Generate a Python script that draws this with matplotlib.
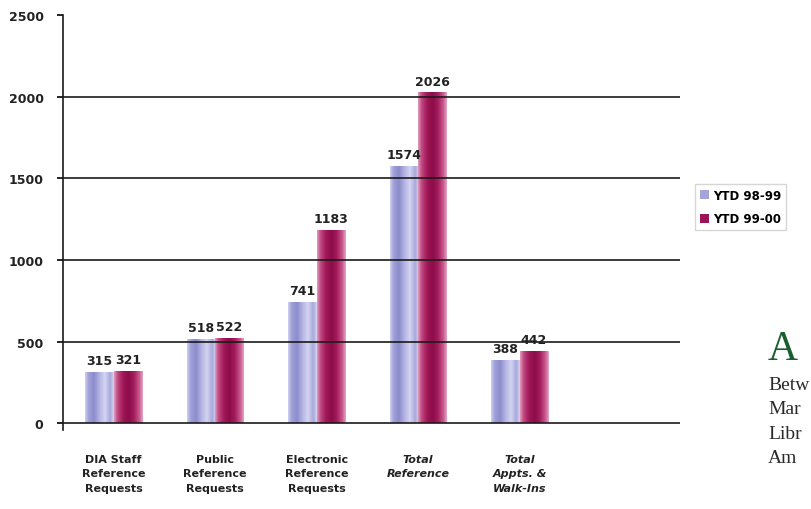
import numpy as np
from matplotlib import pyplot as plt
from matplotlib.colors import LinearSegmentedColormap
from matplotlib.patches import Patch

# data
categories = ['DIA Staff\nReference\nRequests', 'Public\nReference\nRequests',
              'Electronic\nReference\nRequests', 'Total\nReference',
              'Total\nAppts. &\nWalk-Ins']
italic_cat = [False, False, False, True, True]
ytd_9899 = [315, 518, 741, 1574, 388]
ytd_9900 = [321, 522, 1183, 2026, 442]
series_names = ['YTD 98-99', 'YTD 99-00']
yticks = [0, 500, 1000, 1500, 2000, 2500]

lav_cmap = LinearSegmentedColormap.from_list('lav', ['#eaeaf8', '#a0a0da', '#8c8ccc', '#b4b4e4', '#d4d4f2', '#a8a8dc', '#ececfa'])
mag_cmap = LinearSegmentedColormap.from_list('mag', ['#f0c8dc', '#c04880', '#a01858', '#8c0c48', '#a41c5c', '#c8588c', '#f4d0e2'])

fig = plt.figure(figsize=(8.12, 5.1), dpi=100)
ax = fig.add_axes([63/812, 1-431/510, (680-63)/812, 415/510])

x = np.arange(len(categories))
w = 0.28
b1 = ax.bar(x - w/2, ytd_9899, w, color='#a8a8dc', zorder=1)
b2 = ax.bar(x + w/2, ytd_9900, w, color='#a01858', zorder=1)

# cylinder-like shading inside each bar
grad = np.linspace(0, 1, 64).reshape(1, -1)
for bars, cm in ((b1, lav_cmap), (b2, mag_cmap)):
    for r in bars:
        x0, y0 = r.get_x(), r.get_y()
        im = ax.imshow(grad, cmap=cm, aspect='auto', zorder=1.5,
                       extent=(x0 - 0.02, x0 + r.get_width() + 0.02, y0, y0 + r.get_height()))
        im.set_clip_path(r)
        r.set_alpha(0)

# value labels
for bars, vals in ((b1, ytd_9899), (b2, ytd_9900)):
    for r, v in zip(bars, vals):
        ax.text(r.get_x() + r.get_width()/2, v + 30, str(v), ha='center', va='bottom',
                fontsize=9, fontweight='bold', color='#222222', zorder=4)

# horizontal rules drawn over the bars
for yv in yticks[:-1]:
    ax.axhline(yv, color='#1a1a1a', lw=1.2, zorder=3)

ax.set_xlim(-0.5, 5.58)
ax.set_yticks(yticks)
ax.set_yticklabels([str(t) for t in yticks], fontsize=9, fontweight='bold', color='#222222')
ax.tick_params(axis='y', length=4, width=1.2, pad=10)
ax.set_xticks(x)
ax.set_xticklabels(categories, fontsize=8, fontweight='bold', color='#222222', linespacing=1.6)
for lbl, it in zip(ax.get_xticklabels(), italic_cat):
    if it:
        lbl.set_style('italic')
ax.tick_params(axis='x', length=0, pad=17)
for s in ['top', 'right', 'bottom']:
    ax.spines[s].set_visible(False)
ax.spines['left'].set_linewidth(1.2)
ax.spines['left'].set_bounds(-40, 2500)
ax.spines['left'].set_color('#1a1a1a')
ax.set_ylim(-40, 2500)
ax.set_facecolor('none')

handles = [Patch(facecolor='#a4a4d8', edgecolor='none'), Patch(facecolor='#9c1456', edgecolor='none')]
leg = fig.legend(handles, series_names, loc='upper left', bbox_to_anchor=(695/812, 1-185/510),
                 prop={'weight': 'bold', 'size': 8.5}, frameon=True, fancybox=False,
                 handlelength=0.8, handleheight=0.8, handletextpad=0.3, borderpad=0.4,
                 borderaxespad=0, labelspacing=0.9)
leg.get_frame().set_edgecolor('#cccccc')
leg.get_frame().set_linewidth(1.0)

# page text on the right, cut by the picture's edge
fig.text(768/812, 1-360/510, 'A', fontsize=30, family='Liberation Serif', color='#1a5e30')
for i, word in enumerate(['Betw', 'Mar', 'Libr', 'Am']):
    fig.text(768/812, 1-(390 + 24.5*i)/510, word, fontsize=14, family='Liberation Serif', color='#2a2a2a')

fig.savefig('out.png', dpi=100)
